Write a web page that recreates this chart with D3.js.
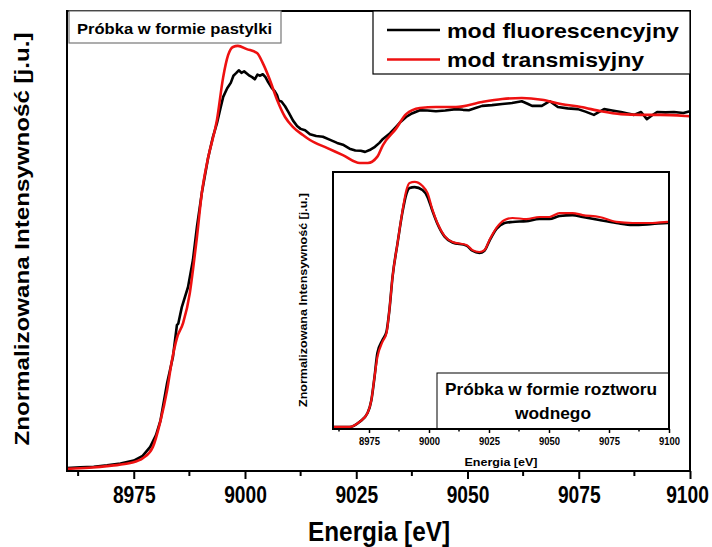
<!DOCTYPE html>
<html>
<head>
<meta charset="utf-8">
<script src="https://cdn.jsdelivr.net/npm/d3@7/dist/d3.min.js"></script>
<style>
  html, body { margin: 0; padding: 0; background: #fff; }
  svg { display: block; }
  text { font-family: Arial, "Liberation Sans", sans-serif; font-weight: bold; fill: #000; }
</style>
</head>
<body>
<svg id="chart" width="712" height="547"></svg>
<script>
// ---- Data: Cu K-edge XANES, energy [eV] vs normalized intensity ----
const xTicks = [8975, 9000, 9025, 9050, 9075, 9100];
const xMinorTicks = [8962.5, 8987.5, 9012.5, 9037.5, 9062.5, 9087.5];

const seriesNames = ["mod fluorescencyjny", "mod transmisyjny"];
const seriesColors = ["#000000", "#ee1111"];

// pellet sample - fluorescence mode
const pelletFluo = [
  [8960, 0.008],[8963, 0.010],[8966, 0.012],[8969, 0.016],[8972, 0.021],[8975, 0.029],
  [8977, 0.042],[8978.7, 0.067],[8980, 0.10],[8981, 0.14],[8982.5, 0.245],[8983.8, 0.317],
  [8984.7, 0.406],[8985, 0.41],[8985.8, 0.456],[8987.2, 0.512],[8988.3, 0.587],[8989.2, 0.679],
  [8990.3, 0.774],[8991.7, 0.871],[8992.8, 0.93],[8993.7, 0.968],[8994.5, 1.01],[8995.1, 1.041],
  [8996, 1.065],[8996.8, 1.080],[8997.4, 1.100],[8998, 1.107],[8998.6, 1.115],[8999.2, 1.108],
  [8999.8, 1.112],[9000.4, 1.106],[9001, 1.100],[9001.6, 1.096],[9002.2, 1.090],[9002.8, 1.103],
  [9003.4, 1.100],[9004, 1.104],[9004.6, 1.096],[9005.2, 1.082],[9006, 1.066],[9006.6, 1.058],
  [9007.2, 1.046],[9007.6, 1.030],[9008.2, 1.028],[9009, 1.015],[9009.8, 0.998],[9010.8, 0.975],
  [9011.7, 0.960],[9012.5, 0.952],[9013.5, 0.948],[9014.6, 0.937],[9016, 0.932],[9017.5, 0.930],
  [9019, 0.922],[9020.7, 0.913],[9022, 0.908],[9023.5, 0.897],[9024.8, 0.892],[9026, 0.891],
  [9027, 0.888],[9028, 0.893],[9029.2, 0.902],[9030.2, 0.913],[9031, 0.924],[9032.6, 0.940],
  [9033.9, 0.957],[9035, 0.972],[9036.2, 0.985],[9037.5, 0.995],[9039.3, 1.004],[9041, 1.003],
  [9042.9, 1.001],[9045, 1.003],[9047.4, 1.007],[9049, 1.005],[9050.3, 1.004],[9051.8, 1.010],
  [9053.3, 1.016],[9055.5, 1.018],[9057.8, 1.021],[9060, 1.024],[9062.2, 1.029],[9063.5, 1.022],
  [9064.5, 1.016],[9066.7, 1.016],[9068.5, 1.029],[9070.3, 1.013],[9072.5, 1.009],[9074.8, 1.007],
  [9076.5, 1.000],[9078.4, 0.991],[9080.7, 1.007],[9082.5, 1.003],[9084.5, 0.999],[9086, 0.995],
  [9087.4, 0.991],[9089, 0.999],[9090.3, 0.979],[9091.5, 0.990],[9092.6, 0.999],[9094.5, 0.998],
  [9096.4, 0.999],[9098.5, 0.996],[9100, 1.001]
];

// pellet sample - transmission mode
const pelletTrans = [
  [8960, 0.006],[8965, 0.009],[8970, 0.015],[8974.2, 0.022],[8977.1, 0.036],[8979.3, 0.067],
  [8980.9, 0.134],[8982.5, 0.225],[8983.6, 0.309],[8984.7, 0.370],[8986.1, 0.412],[8987.6, 0.495],
  [8988.3, 0.559],[8989.2, 0.651],[8990.3, 0.774],[8991.7, 0.871],[8993.7, 0.977],[8995.1, 1.096],
  [8996.2, 1.157],[8997.3, 1.180],[8998.4, 1.183],[9000.4, 1.174],[9002.7, 1.163],[9004.0, 1.135],
  [9005.6, 1.088],[9007.2, 1.033],[9009.0, 0.985],[9010.8, 0.957],[9013.0, 0.935],[9014.6, 0.921],
  [9018.4, 0.899],[9022.0, 0.879],[9025.8, 0.857],[9027.6, 0.857],[9029.7, 0.874],[9031.0, 0.907],
  [9033.9, 0.952],[9036.2, 0.993],[9039.3, 1.010],[9042.9, 1.013],[9047.4, 1.013],[9053.3, 1.027],
  [9057.8, 1.035],[9062.2, 1.038],[9066.7, 1.033],[9071.0, 1.021],[9075.5, 1.013],[9080.0, 1.001],
  [9084.5, 0.993],[9089.0, 0.991],[9093.3, 0.991],[9098.9, 0.988],[9100, 0.987]
];

// aqueous solution - fluorescence mode
const solutionFluo = [
  [8960, 0.000],[8966.9, 0.000],[8971.0, 0.024],[8974.4, 0.067],[8976.0, 0.130],[8977.3, 0.241],
  [8978.5, 0.357],[8980.6, 0.419],[8982.3, 0.460],[8983.5, 0.564],[8984.8, 0.723],[8986.9, 0.887],
  [8989.0, 1.040],[8990.6, 1.125],[8991.9, 1.153],[8994.0, 1.157],[8997.3, 1.143],[8999.4, 1.109],
  [9001.5, 1.040],[9003.5, 0.980],[9006.5, 0.918],[9009.8, 0.890],[9015.6, 0.875],[9018.1, 0.850],
  [9021.0, 0.839],[9023.1, 0.850],[9025.2, 0.898],[9028.1, 0.955],[9031.5, 0.984],[9034.8, 0.989],
  [9040.6, 0.993],[9046.0, 1.003],[9050.2, 1.003],[9054.4, 1.018],[9059.8, 1.022],[9064.0, 1.013],
  [9071.0, 0.998],[9078.1, 0.984],[9084.8, 0.974],[9093.1, 0.979],[9099.4, 0.984],[9100, 0.984]
];

// aqueous solution - transmission mode
const solutionTrans = [
  [8960, 0.000],[8966.9, 0.000],[8971.0, 0.024],[8974.4, 0.067],[8976.0, 0.130],[8977.3, 0.241],
  [8978.5, 0.337],[8980.6, 0.410],[8982.3, 0.453],[8983.5, 0.564],[8984.8, 0.723],[8986.9, 0.887],
  [8989.0, 1.046],[8990.6, 1.143],[8991.9, 1.177],[8994.0, 1.182],[8997.3, 1.162],[8999.4, 1.128],
  [9001.5, 1.046],[9003.5, 0.984],[9006.5, 0.921],[9009.8, 0.892],[9015.6, 0.878],[9018.1, 0.853],
  [9021.0, 0.844],[9023.1, 0.853],[9025.2, 0.902],[9028.1, 0.960],[9031.5, 0.998],[9034.8, 1.008],
  [9040.6, 1.003],[9046.0, 1.013],[9050.2, 1.013],[9054.4, 1.032],[9059.8, 1.032],[9064.0, 1.022],
  [9071.0, 1.013],[9078.1, 0.989],[9084.8, 0.984],[9093.1, 0.984],[9099.4, 0.989],[9100, 0.989]
];

const svg = d3.select("#chart");

// ---- main panel ----
const main = { left: 67, right: 690, top: 11, bottom: 471 };
const x = d3.scaleLinear().domain([8960, 9100]).range([main.left, main.right]);
const y = d3.scaleLinear().domain([0, 1.28]).range([main.bottom, main.top]);

const line = (xs, ys) => d3.line().x(d => xs(d[0])).y(d => ys(d[1]));

svg.append("path").datum(pelletFluo)
  .attr("d", line(x, y).curve(d3.curveLinear))
  .attr("fill", "none").attr("stroke", seriesColors[0]).attr("stroke-width", 2.6)
  .attr("stroke-linejoin", "round");
svg.append("path").datum(pelletTrans)
  .attr("d", line(x, y).curve(d3.curveMonotoneX))
  .attr("fill", "none").attr("stroke", seriesColors[1]).attr("stroke-width", 2.6);

// bottom axis with major and minor ticks
const axMain = svg.append("g").attr("transform", `translate(0,${main.bottom})`);
axMain.call(d3.axisBottom(x).tickValues(xTicks).tickSize(8).tickPadding(6).tickFormat(d3.format("d")));
axMain.select(".domain").remove();
axMain.selectAll(".tick line").attr("stroke-width", 2);
// narrow, tall tick numerals; the last one is nudged to stay inside the page
axMain.selectAll(".tick text")
  .attr("font-size", 24).attr("font-family", null)
  .attr("x", null).attr("y", null).attr("dy", "0.71em")
  .attr("transform", d => `translate(${d === 9100 ? -3 : 0},15) scale(0.8,1)`);
axMain.selectAll(".minor").data(xMinorTicks).enter().append("line")
  .attr("x1", d => x(d)).attr("x2", d => x(d)).attr("y1", 0).attr("y2", 5)
  .attr("stroke", "#000").attr("stroke-width", 2);

// frame
svg.append("rect").attr("x", main.left).attr("y", main.top)
  .attr("width", main.right - main.left).attr("height", main.bottom - main.top)
  .attr("fill", "none").attr("stroke", "#000").attr("stroke-width", 2);

// axis titles
svg.append("text").attr("x", 379).attr("y", 541).attr("text-anchor", "middle")
  .attr("font-size", 27).attr("textLength", 142).attr("lengthAdjust", "spacingAndGlyphs")
  .text("Energia [eV]");
svg.append("text").attr("transform", "translate(29,239) rotate(-90)").attr("text-anchor", "middle")
  .attr("font-size", 20).attr("textLength", 413).attr("lengthAdjust", "spacingAndGlyphs")
  .text("Znormalizowana Intensywność [j.u.]");

// sample label
svg.append("rect").attr("x", 69).attr("y", 11).attr("width", 212).attr("height", 32)
  .attr("fill", "#fff").attr("stroke", "#777").attr("stroke-width", 1.2);
svg.append("text").attr("x", 77).attr("y", 34).attr("font-size", 15.5)
  .attr("textLength", 195).attr("lengthAdjust", "spacingAndGlyphs")
  .text("Próbka w formie pastylki");

// legend
const lg = svg.append("g");
lg.append("rect").attr("x", 373).attr("y", 11).attr("width", 317).attr("height", 63)
  .attr("fill", "#fff").attr("stroke", "#000").attr("stroke-width", 1.2);
const legendY = [30, 59.5];
const legendLen = [232, 197];
seriesNames.forEach((name, i) => {
  lg.append("line").attr("x1", 387).attr("x2", 440).attr("y1", legendY[i]).attr("y2", legendY[i])
    .attr("stroke", seriesColors[i]).attr("stroke-width", 2.6);
  lg.append("text").attr("x", 447).attr("y", legendY[i] + 7.5).attr("font-size", 20.5)
    .attr("textLength", legendLen[i]).attr("lengthAdjust", "spacingAndGlyphs")
    .text(name);
});

// ---- inset panel ----
const ins = { left: 333, right: 669, top: 172, bottom: 429 };
const xi = d3.scaleLinear().domain([8960, 9100]).range([ins.left, ins.right]);
const yi = d3.scaleLinear().domain([-0.01, 1.23]).range([ins.bottom, ins.top]);

svg.append("rect").attr("x", ins.left).attr("y", ins.top)
  .attr("width", ins.right - ins.left).attr("height", ins.bottom - ins.top)
  .attr("fill", "#fff");

svg.append("path").datum(solutionFluo)
  .attr("d", line(xi, yi).curve(d3.curveMonotoneX))
  .attr("fill", "none").attr("stroke", seriesColors[0]).attr("stroke-width", 2.6);
svg.append("path").datum(solutionTrans)
  .attr("d", line(xi, yi).curve(d3.curveMonotoneX))
  .attr("fill", "none").attr("stroke", seriesColors[1]).attr("stroke-width", 2.2);

const axIns = svg.append("g").attr("transform", `translate(0,${ins.bottom})`);
axIns.call(d3.axisBottom(xi).tickValues(xTicks).tickSize(4).tickPadding(3).tickFormat(d3.format("d")));
axIns.select(".domain").remove();
axIns.selectAll(".tick line").attr("stroke-width", 1.5);
axIns.selectAll(".tick text")
  .attr("font-size", 11).attr("font-family", null)
  .attr("textLength", 21).attr("lengthAdjust", "spacingAndGlyphs")
  .attr("dy", "0.71em").attr("y", 8);
axIns.selectAll(".minor").data(xMinorTicks).enter().append("line")
  .attr("x1", d => xi(d)).attr("x2", d => xi(d)).attr("y1", 0).attr("y2", 2.5)
  .attr("stroke", "#000").attr("stroke-width", 1.5);

// solution label box
svg.append("rect").attr("x", 437).attr("y", 373).attr("width", 232).attr("height", 56)
  .attr("fill", "#fff").attr("stroke", "#000").attr("stroke-width", 1);
svg.append("text").attr("x", 551).attr("y", 395).attr("text-anchor", "middle").attr("font-size", 16.5)
  .attr("textLength", 212).attr("lengthAdjust", "spacingAndGlyphs")
  .text("Próbka w formie roztworu");
svg.append("text").attr("x", 553).attr("y", 419).attr("text-anchor", "middle").attr("font-size", 16.5)
  .attr("textLength", 76).attr("lengthAdjust", "spacingAndGlyphs")
  .text("wodnego");

svg.append("rect").attr("x", ins.left).attr("y", ins.top)
  .attr("width", ins.right - ins.left).attr("height", ins.bottom - ins.top)
  .attr("fill", "none").attr("stroke", "#000").attr("stroke-width", 2);

svg.append("text").attr("x", 501).attr("y", 466).attr("text-anchor", "middle")
  .attr("font-size", 11.5).attr("textLength", 73).attr("lengthAdjust", "spacingAndGlyphs")
  .text("Energia [eV]");
svg.append("text").attr("transform", "translate(307,300) rotate(-90)").attr("text-anchor", "middle")
  .attr("font-size", 10).attr("textLength", 214).attr("lengthAdjust", "spacingAndGlyphs")
  .text("Znormalizowana Intensywność [j.u.]");
</script>
</body>
</html>
